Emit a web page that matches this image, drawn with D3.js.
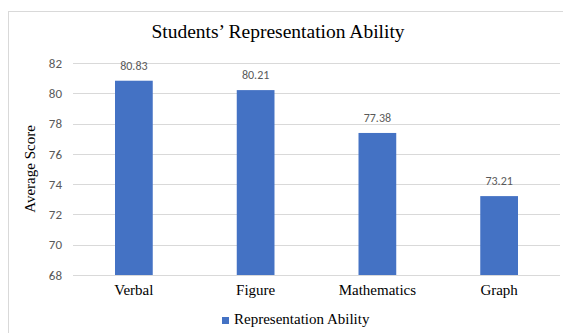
<!DOCTYPE html>
<html>
<head>
<meta charset="utf-8">
<script src="https://cdn.jsdelivr.net/npm/d3@7"></script>
<style>
  body { margin: 0; background: #fff; }
  svg { display: block; }
</style>
</head>
<body>
<div id="chart-area"></div>
<script>
/* Data */
var categories = ["Verbal", "Figure", "Mathematics", "Graph"];
var scores = [80.83, 80.21, 77.38, 73.21];
var yTicks = [68, 70, 72, 74, 76, 78, 80, 82];
var seriesName = "Representation Ability";

var W = 563, H = 333;
var margin = {top: 63, right: 3, bottom: 58, left: 73};
var width = W - margin.left - margin.right;
var height = H - margin.top - margin.bottom;

var svg = d3.select("#chart-area").append("svg")
  .attr("width", W)
  .attr("height", H);

// outer frame
svg.append("rect")
  .attr("x", 8.5).attr("y", 11.5)
  .attr("width", W).attr("height", H)
  .attr("fill", "none")
  .attr("stroke", "#d9d9d9");

var g = svg.append("g")
  .attr("transform", "translate(" + margin.left + "," + margin.top + ")");

/* Scales */
var x = d3.scaleBand()
  .domain(categories)
  .range([0, width])
  .paddingInner(0.69)
  .paddingOuter(0.345);

var y = d3.scaleLinear()
  .domain([68, 82])
  .range([height, 0]);

/* Grid */
g.selectAll("line.grid").data(yTicks).enter()
  .append("line")
  .attr("class", "grid")
  .attr("x1", 0).attr("x2", width)
  .attr("y1", d => Math.round(y(d)) + 0.5)
  .attr("y2", d => Math.round(y(d)) + 0.5)
  .attr("stroke", "#d9d9d9")
  .attr("stroke-width", 1);

/* Y axis labels */
var yAxisCall = d3.axisLeft(y).tickValues(yTicks).tickSize(0).tickPadding(11);
var yAxis = g.append("g").call(yAxisCall);
yAxis.select(".domain").remove();
yAxis.selectAll("text")
  .attr("font-family", "Carlito, 'Liberation Sans', Arial, sans-serif")
  .attr("font-size", "13px")
  .attr("fill", "#595959");

/* Bars */
g.selectAll("rect.bar").data(scores).enter()
  .append("rect")
  .attr("class", "bar")
  .attr("x", (d, i) => x(categories[i]))
  .attr("y", d => y(d))
  .attr("width", x.bandwidth())
  .attr("height", d => height - y(d))
  .attr("fill", "#4472c4");

/* Data labels */
g.selectAll("text.val").data(scores).enter()
  .append("text")
  .attr("class", "val")
  .attr("x", (d, i) => x(categories[i]) + x.bandwidth() / 2)
  .attr("y", d => y(d) - 11)
  .attr("text-anchor", "middle")
  .attr("font-family", "Carlito, 'Liberation Sans', Arial, sans-serif")
  .attr("font-size", "12px")
  .attr("fill", "#595959")
  .text(d => d.toFixed(2));

/* X axis labels */
var xAxisCall = d3.axisBottom(x).tickSize(0).tickPadding(9);
var xAxis = g.append("g")
  .attr("transform", "translate(0," + height + ")")
  .call(xAxisCall);
xAxis.select(".domain").remove();
xAxis.selectAll("text")
  .attr("font-family", "'Liberation Serif', 'Times New Roman', serif")
  .attr("font-size", "15px")
  .attr("fill", "#000");

/* Title */
svg.append("text")
  .attr("x", 278)
  .attr("y", 38)
  .attr("text-anchor", "middle")
  .attr("font-family", "'Liberation Serif', 'Times New Roman', serif")
  .attr("font-size", "19.5px")
  .attr("fill", "#000")
  .text("Students\u2019 Representation Ability");

/* Y label */
svg.append("text")
  .attr("transform", "translate(35," + (margin.top + height / 2) + ") rotate(-90)")
  .attr("text-anchor", "middle")
  .attr("font-family", "'Liberation Serif', 'Times New Roman', serif")
  .attr("font-size", "15px")
  .attr("fill", "#000")
  .text("Average Score");

/* Legend */
var legend = svg.append("g").attr("transform", "translate(222,314)");
legend.append("rect")
  .attr("x", 0).attr("y", 3)
  .attr("width", 7).attr("height", 7)
  .attr("fill", "#4472c4");
legend.append("text")
  .attr("x", 12).attr("y", 10)
  .attr("font-family", "'Liberation Serif', 'Times New Roman', serif")
  .attr("font-size", "15px")
  .attr("fill", "#000")
  .text(seriesName);
</script>
</body>
</html>
